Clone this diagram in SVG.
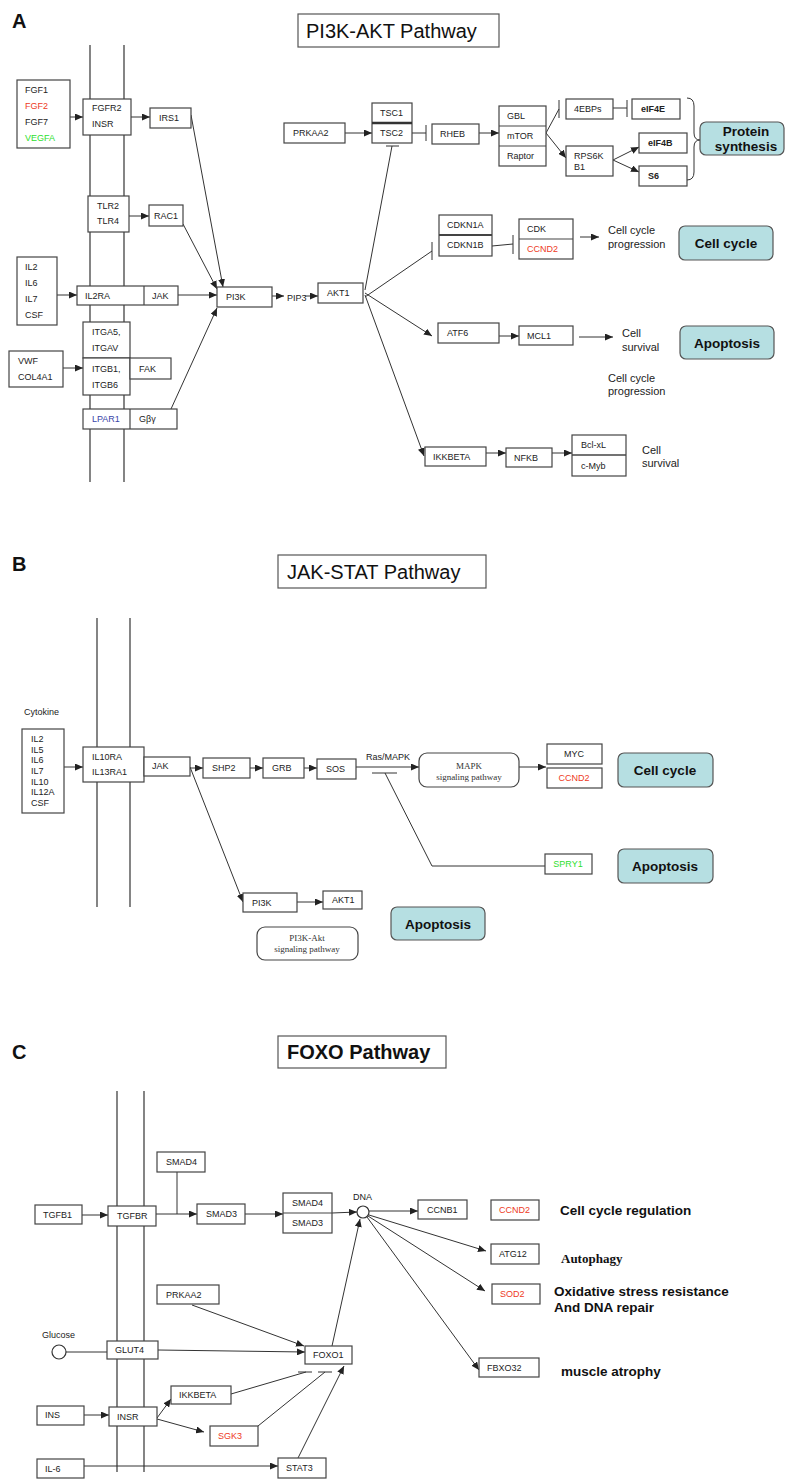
<svg xmlns="http://www.w3.org/2000/svg" width="785" height="1479" viewBox="0 0 785 1479">
<defs>
<marker id="arr" markerUnits="userSpaceOnUse" markerWidth="8" markerHeight="7" refX="8" refY="3.5" orient="auto"><path d="M0,0 L8,3.5 L0,7 z" fill="#222"/></marker>
<style>
.bg{fill:#fff}
.b{fill:#fff;stroke:#444;stroke-width:1.2}
.t{font-family:"Liberation Sans",Arial,sans-serif;font-size:9px;fill:#222;dominant-baseline:central}
.tc{text-anchor:middle}
.red{fill:#ee3a24}
.grn{fill:#2ee02e}
.blu{fill:#3a45a8}
.bold{font-weight:bold}
.lbl{font-family:"Liberation Sans",Arial,sans-serif;font-size:11px;fill:#222;dominant-baseline:central}
.big{font-family:"Liberation Sans",Arial,sans-serif;font-size:13.5px;font-weight:bold;fill:#111;dominant-baseline:central}
.ser{font-family:"Liberation Serif","Times New Roman",serif;font-size:9px;fill:#333;dominant-baseline:central;text-anchor:middle}
.cy{fill:#b6dfe2;stroke:#555;stroke-width:1.2}
.rr{fill:#fff;stroke:#444;stroke-width:1.2}
.ttl{font-family:"Liberation Sans",Arial,sans-serif;font-size:20px;fill:#111;dominant-baseline:central}
.pl{font-family:"Liberation Sans",Arial,sans-serif;font-size:20px;font-weight:bold;fill:#111;dominant-baseline:central}
.mem{stroke:#333;stroke-width:1.2;fill:none}
.c line,.c polyline,.c path{stroke:#333;stroke-width:1;fill:none}
.a{marker-end:url(#arr)}
</style>
</defs>
<rect x="0" y="0" width="785" height="1479" class="bg"/>

<!-- panel labels and titles -->
<text x="12" y="21" class="pl">A</text>
<g id="title-a"><rect x="298" y="14" width="201" height="33" fill="#fff" stroke="#555" stroke-width="1.2"/><text x="306" y="31" class="ttl">PI3K-AKT Pathway</text></g>
<text x="12" y="564" class="pl">B</text>
<g id="title-b"><rect x="278" y="555" width="208" height="33" fill="#fff" stroke="#555" stroke-width="1.2"/><text x="287" y="572" class="ttl">JAK-STAT Pathway</text></g>
<text x="12" y="1052" class="pl">C</text>
<g id="title-c"><rect x="278" y="1036" width="168" height="32" fill="#fff" stroke="#555" stroke-width="1.2"/><text x="287" y="1052" class="ttl" font-weight="bold">FOXO Pathway</text></g>

<!-- membranes -->
<g id="membranes">
<line x1="90" y1="45" x2="90" y2="482" class="mem"/>
<line x1="124" y1="45" x2="124" y2="482" class="mem"/>
<line x1="97" y1="618" x2="97" y2="907" class="mem"/>
<line x1="130" y1="618" x2="130" y2="907" class="mem"/>
<line x1="117" y1="1091" x2="117" y2="1472" class="mem"/>
<line x1="144" y1="1091" x2="144" y2="1472" class="mem"/>
</g>

<!-- connectors -->
<g id="connectors" class="c">
<!-- A -->
<line x1="70" y1="117" x2="83" y2="117" class="a"/>
<line x1="131" y1="117" x2="150" y2="117" class="a"/>
<line x1="129" y1="216" x2="149" y2="216" class="a"/>
<line x1="191" y1="115" x2="223" y2="287" class="a"/>
<line x1="183" y1="224" x2="217" y2="289" class="a"/>
<line x1="57" y1="295" x2="77" y2="295" class="a"/>
<line x1="178" y1="295" x2="217" y2="295" class="a"/>
<line x1="63" y1="368" x2="83" y2="368" class="a"/>
<line x1="171" y1="409" x2="217" y2="308" class="a"/>
<line x1="272" y1="296" x2="284" y2="296" class="a"/>
<line x1="305" y1="296" x2="318" y2="296" class="a"/>
<line x1="345" y1="133" x2="372" y2="133" class="a"/>
<line x1="412" y1="133" x2="426" y2="133"/><line x1="426" y1="125" x2="426" y2="141"/>
<line x1="479" y1="133" x2="499" y2="133" class="a"/>
<line x1="546" y1="133" x2="559" y2="109"/><line x1="559" y1="100" x2="559" y2="118"/>
<line x1="613" y1="108" x2="627" y2="108"/><line x1="627" y1="100" x2="627" y2="117"/>
<line x1="546" y1="133" x2="566" y2="158" class="a"/>
<line x1="613" y1="160" x2="639" y2="147" class="a"/>
<line x1="613" y1="160" x2="639" y2="172" class="a"/>
<path d="M687,98 Q694,98 694,106 L694,133 Q694,140 700,140 Q694,140 694,147 L694,172 Q694,180 687,180"/>
<line x1="365" y1="290" x2="392" y2="146"/><line x1="386" y1="146" x2="399" y2="146"/>
<line x1="365" y1="297" x2="432" y2="251"/><line x1="432" y1="242" x2="432" y2="260"/>
<line x1="492" y1="246" x2="513" y2="244"/><line x1="513" y1="235" x2="513" y2="254"/>
<line x1="580" y1="237" x2="599" y2="237" class="a"/>
<line x1="365" y1="293" x2="432" y2="336" class="a"/>
<line x1="499" y1="336" x2="519" y2="336" class="a"/>
<line x1="579" y1="337" x2="613" y2="337" class="a"/>
<line x1="365" y1="295" x2="424" y2="456" class="a"/>
<line x1="486" y1="453" x2="506" y2="453" class="a"/>
<line x1="552" y1="453" x2="572" y2="453" class="a"/>
<!-- B -->
<line x1="64" y1="767" x2="83" y2="767" class="a"/>
<line x1="190" y1="768" x2="203" y2="768" class="a"/>
<line x1="250" y1="768" x2="263" y2="768" class="a"/>
<line x1="304" y1="768" x2="317" y2="768" class="a"/>
<line x1="356" y1="767" x2="419" y2="767" class="a"/>
<line x1="372" y1="773" x2="397" y2="773"/>
<polyline points="385,773 432,866 545,866"/>
<line x1="519" y1="767" x2="546" y2="767" class="a"/>
<line x1="190" y1="767" x2="243" y2="902" class="a"/>
<line x1="297" y1="902" x2="323" y2="902" class="a"/>
<!-- C -->
<line x1="82" y1="1215" x2="108" y2="1215" class="a"/>
<line x1="156" y1="1214" x2="197" y2="1214" class="a"/>
<line x1="177" y1="1172" x2="177" y2="1214"/>
<line x1="245" y1="1214" x2="283" y2="1214" class="a"/>
<line x1="332" y1="1213" x2="357" y2="1212" class="a"/>
<line x1="369" y1="1211" x2="418" y2="1211" class="a"/>
<line x1="369" y1="1215" x2="486" y2="1251" class="a"/>
<line x1="368" y1="1216" x2="485" y2="1291" class="a"/>
<line x1="367" y1="1217" x2="479" y2="1370" class="a"/>
<line x1="192" y1="1305" x2="304" y2="1346" class="a"/>
<line x1="66" y1="1352" x2="107" y2="1352"/>
<line x1="158" y1="1350" x2="305" y2="1352" class="a"/>
<line x1="332" y1="1346" x2="360" y2="1219" class="a"/>
<line x1="298" y1="1372" x2="312" y2="1372"/><line x1="318" y1="1372" x2="332" y2="1372"/>
<line x1="231" y1="1394" x2="306" y2="1372"/>
<line x1="258" y1="1426" x2="325" y2="1372"/>
<line x1="298" y1="1458" x2="344" y2="1366" class="a"/>
<line x1="84" y1="1415" x2="109" y2="1415" class="a"/>
<line x1="157" y1="1418" x2="171" y2="1399" class="a"/>
<line x1="157" y1="1419" x2="204" y2="1432" class="a"/>
<line x1="84" y1="1466" x2="278" y2="1466" class="a"/>
</g>

<!-- ===== Panel A nodes ===== -->
<g id="fgf"><rect x="17" y="80" width="53" height="68" class="b"/><text x="25" y="90" class="t">FGF1</text><text x="25" y="106" class="t red">FGF2</text><text x="25" y="122" class="t">FGF7</text><text x="25" y="138" class="t grn">VEGFA</text></g>
<g id="fgfr2"><rect x="83" y="99" width="48" height="36" class="b"/><text x="92" y="108" class="t">FGFR2</text><text x="92" y="124" class="t">INSR</text></g>
<g id="irs1"><rect x="150" y="108" width="41" height="20" class="b"/><text x="159" y="118" class="t">IRS1</text></g>
<g id="tlr"><rect x="88" y="196" width="41" height="36" class="b"/><text x="97" y="206" class="t">TLR2</text><text x="97" y="221" class="t">TLR4</text></g>
<g id="rac1"><rect x="149" y="205" width="34" height="21" class="b"/><text x="154" y="216" class="t">RAC1</text></g>
<g id="il"><rect x="17" y="257" width="40" height="68" class="b"/><text x="25" y="267" class="t">IL2</text><text x="25" y="283" class="t">IL6</text><text x="25" y="299" class="t">IL7</text><text x="25" y="315" class="t">CSF</text></g>
<g id="il2ra-jak"><rect x="77" y="286" width="101" height="19" class="b"/><line x1="144" y1="286" x2="144" y2="305" stroke="#444" stroke-width="1.2"/><text x="85" y="296" class="t">IL2RA</text><text x="152" y="296" class="t">JAK</text></g>
<g id="pi3k-a"><rect x="217" y="287" width="55" height="20" class="b"/><text x="226" y="297" class="t">PI3K</text></g>
<g id="itga"><rect x="83" y="322" width="47" height="36" class="b"/><text x="92" y="332" class="t">ITGA5,</text><text x="92" y="348" class="t">ITGAV</text></g>
<g id="itgb"><rect x="83" y="358" width="47" height="37" class="b"/><text x="92" y="369" class="t">ITGB1,</text><text x="92" y="385" class="t">ITGB6</text></g>
<g id="fak"><rect x="130" y="358" width="41" height="21" class="b"/><text x="139" y="369" class="t">FAK</text></g>
<g id="vwf"><rect x="9" y="351" width="54" height="36" class="b"/><text x="18" y="361" class="t">VWF</text><text x="18" y="377" class="t">COL4A1</text></g>
<g id="lpar1"><rect x="83" y="409" width="94" height="20" class="b"/><line x1="130" y1="409" x2="130" y2="429" stroke="#444" stroke-width="1.2"/><text x="92" y="419" class="t blu">LPAR1</text><text x="139" y="419" class="t">Gβγ</text></g>
<g id="pip3"><text x="287" y="298" class="t">PIP3</text></g>
<g id="akt1-a"><rect x="318" y="283" width="45" height="20" class="b"/><text x="327" y="293" class="t">AKT1</text></g>
<g id="prkaa2-a"><rect x="284" y="123" width="61" height="20" class="b"/><text x="293" y="133" class="t">PRKAA2</text></g>
<g id="tsc"><rect x="372" y="103" width="40" height="40" class="b"/><line x1="372" y1="123" x2="412" y2="123" stroke="#333" stroke-width="2.5"/><text x="380" y="113" class="t">TSC1</text><text x="380" y="133" class="t">TSC2</text></g>
<g id="rheb"><rect x="432" y="124" width="47" height="20" class="b"/><text x="440" y="134" class="t">RHEB</text></g>
<g id="mtor"><rect x="499" y="106" width="47" height="60" class="b"/><line x1="499" y1="126" x2="546" y2="126" stroke="#444" stroke-width="1.2"/><line x1="499" y1="146" x2="546" y2="146" stroke="#444" stroke-width="1.2"/><text x="507" y="116" class="t">GBL</text><text x="507" y="136" class="t">mTOR</text><text x="507" y="156" class="t">Raptor</text></g>
<g id="4ebps"><rect x="566" y="99" width="47" height="20" class="b"/><text x="574" y="109" class="t">4EBPs</text></g>
<g id="eif4e"><rect x="632" y="99" width="48" height="20" class="b"/><text x="641" y="109" class="t bold">eIF4E</text></g>
<g id="rps6kb1"><rect x="566" y="146" width="47" height="30" class="b"/><text x="574" y="156" class="t">RPS6K</text><text x="574" y="167" class="t">B1</text></g>
<g id="eif4b"><rect x="639" y="133" width="48" height="20" class="b"/><text x="648" y="143" class="t bold">eIF4B</text></g>
<g id="s6"><rect x="639" y="166" width="48" height="20" class="b"/><text x="648" y="176" class="t bold">S6</text></g>
<g id="protein-synthesis"><rect x="700" y="122" width="84" height="33" rx="6" class="cy"/><text x="746" y="131" class="big tc">Protein</text><text x="746" y="146" class="big tc">synthesis</text></g>
<g id="cdkn1"><rect x="439" y="215" width="53" height="41" class="b"/><line x1="439" y1="235" x2="492" y2="235" stroke="#444" stroke-width="2"/><text x="447" y="225" class="t">CDKN1A</text><text x="447" y="245" class="t">CDKN1B</text></g>
<g id="cdk-ccnd2"><rect x="519" y="219" width="54" height="40" class="b"/><line x1="519" y1="239" x2="573" y2="239" stroke="#444" stroke-width="1.2"/><text x="527" y="229" class="t">CDK</text><text x="527" y="249" class="t red">CCND2</text></g>
<g id="lbl-ccp1"><text x="608" y="230" class="lbl">Cell cycle</text><text x="608" y="244" class="lbl">progression</text></g>
<g id="cell-cycle-a"><rect x="679" y="226" width="94" height="34" rx="6" class="cy"/><text x="726" y="243" class="big tc">Cell cycle</text></g>
<g id="atf6"><rect x="438" y="323" width="61" height="20" class="b"/><text x="447" y="333" class="t">ATF6</text></g>
<g id="mcl1"><rect x="519" y="326" width="54" height="19" class="b"/><text x="527" y="336" class="t">MCL1</text></g>
<g id="lbl-cs1"><text x="622" y="333" class="lbl">Cell</text><text x="622" y="347" class="lbl">survival</text></g>
<g id="apoptosis-a"><rect x="680" y="326" width="94" height="33" rx="6" class="cy"/><text x="727" y="343" class="big tc">Apoptosis</text></g>
<g id="lbl-ccp2"><text x="608" y="378" class="lbl">Cell cycle</text><text x="608" y="391" class="lbl">progression</text></g>
<g id="ikkbeta-a"><rect x="425" y="447" width="61" height="19" class="b"/><text x="433" y="457" class="t">IKKBETA</text></g>
<g id="nfkb"><rect x="506" y="448" width="46" height="19" class="b"/><text x="514" y="458" class="t">NFKB</text></g>
<g id="bcl"><rect x="572" y="435" width="54" height="41" class="b"/><line x1="572" y1="455" x2="626" y2="455" stroke="#444" stroke-width="1.5"/><text x="581" y="445" class="t">Bcl-xL</text><text x="581" y="466" class="t">c-Myb</text></g>
<g id="lbl-cs2"><text x="642" y="450" class="lbl">Cell</text><text x="642" y="463" class="lbl">survival</text></g>

<!-- ===== Panel B nodes ===== -->
<g id="cytokine"><text x="24" y="712" class="t">Cytokine</text><rect x="22" y="729" width="42" height="84" class="b"/><text x="31" y="739" class="t">IL2</text><text x="31" y="750" class="t">IL5</text><text x="31" y="760" class="t">IL6</text><text x="31" y="771" class="t">IL7</text><text x="31" y="782" class="t">IL10</text><text x="31" y="792" class="t">IL12A</text><text x="31" y="803" class="t">CSF</text></g>
<g id="il10ra"><rect x="83" y="747" width="61" height="35" class="b"/><text x="92" y="757" class="t">IL10RA</text><text x="92" y="772" class="t">IL13RA1</text></g>
<g id="jak-b"><rect x="144" y="757" width="46" height="19" class="b"/><text x="152" y="766" class="t">JAK</text></g>
<g id="shp2"><rect x="203" y="758" width="47" height="20" class="b"/><text x="212" y="768" class="t">SHP2</text></g>
<g id="grb"><rect x="263" y="758" width="41" height="20" class="b"/><text x="272" y="768" class="t">GRB</text></g>
<g id="sos"><rect x="317" y="759" width="39" height="20" class="b"/><text x="326" y="769" class="t">SOS</text></g>
<g id="rasmapk"><text x="366" y="757" class="t">Ras/MAPK</text></g>
<g id="mapk"><rect x="419" y="753" width="100" height="34" rx="8" class="rr"/><text x="469" y="766" class="ser">MAPK</text><text x="469" y="777" class="ser">signaling pathway</text></g>
<g id="myc"><rect x="547" y="744" width="55" height="20" class="b"/><text x="574" y="754" class="t tc">MYC</text></g>
<g id="ccnd2-b"><rect x="547" y="768" width="55" height="20" class="b"/><text x="574" y="778" class="t tc red">CCND2</text></g>
<g id="cell-cycle-b"><rect x="618" y="753" width="95" height="34" rx="6" class="cy"/><text x="665" y="770" class="big tc">Cell cycle</text></g>
<g id="spry1"><rect x="545" y="854" width="47" height="20" class="b"/><text x="568" y="864" class="t tc grn">SPRY1</text></g>
<g id="apoptosis-b1"><rect x="618" y="849" width="95" height="34" rx="6" class="cy"/><text x="665" y="866" class="big tc">Apoptosis</text></g>
<g id="pi3k-b"><rect x="243" y="893" width="54" height="19" class="b"/><text x="252" y="903" class="t">PI3K</text></g>
<g id="akt1-b"><rect x="323" y="891" width="39" height="18" class="b"/><text x="332" y="900" class="t">AKT1</text></g>
<g id="pi3k-akt"><rect x="257" y="927" width="101" height="33" rx="8" class="rr"/><text x="307" y="938" class="ser">PI3K-Akt</text><text x="307" y="949" class="ser">signaling pathway</text></g>
<g id="apoptosis-b2"><rect x="391" y="907" width="94" height="33" rx="6" class="cy"/><text x="438" y="924" class="big tc">Apoptosis</text></g>

<!-- ===== Panel C nodes ===== -->
<g id="smad4-top"><rect x="157" y="1152" width="48" height="20" class="b"/><text x="166" y="1162" class="t">SMAD4</text></g>
<g id="tgfb1"><rect x="35" y="1205" width="47" height="19" class="b"/><text x="43" y="1215" class="t">TGFB1</text></g>
<g id="tgfbr"><rect x="108" y="1206" width="48" height="20" class="b"/><text x="117" y="1216" class="t">TGFBR</text></g>
<g id="smad3"><rect x="197" y="1204" width="48" height="20" class="b"/><text x="206" y="1214" class="t">SMAD3</text></g>
<g id="smad-complex"><rect x="283" y="1193" width="49" height="40" fill="none" stroke="#444" stroke-width="1.2"/><line x1="283" y1="1213" x2="332" y2="1213" stroke="#444" stroke-width="1.2"/><text x="292" y="1203" class="t">SMAD4</text><text x="292" y="1223" class="t">SMAD3</text></g>
<g id="dna"><text x="353" y="1197" class="t">DNA</text><circle cx="363" cy="1212" r="6" fill="#fff" stroke="#333" stroke-width="1.2"/></g>
<g id="ccnb1"><rect x="418" y="1200" width="49" height="19" class="b"/><text x="427" y="1210" class="t">CCNB1</text></g>
<g id="ccnd2-c"><rect x="491" y="1200" width="48" height="20" class="b"/><text x="499" y="1210" class="t red">CCND2</text></g>
<g id="lbl-ccr"><text x="560" y="1210" class="big">Cell cycle regulation</text></g>
<g id="atg12"><rect x="491" y="1244" width="48" height="20" class="b"/><text x="499" y="1254" class="t">ATG12</text></g>
<g id="lbl-autophagy"><text x="561" y="1258" font-family="'Liberation Serif','Times New Roman',serif" font-size="13px" font-weight="bold" fill="#111" dominant-baseline="central">Autophagy</text></g>
<g id="sod2"><rect x="492" y="1284" width="48" height="20" class="b"/><text x="500" y="1294" class="t red">SOD2</text></g>
<g id="lbl-oxid"><text x="554" y="1291" class="big">Oxidative stress resistance</text><text x="554" y="1307" class="big">And DNA repair</text></g>
<g id="fbxo32"><rect x="479" y="1358" width="60" height="19" class="b"/><text x="487" y="1368" class="t">FBXO32</text></g>
<g id="lbl-muscle"><text x="561" y="1371" class="big">muscle atrophy</text></g>
<g id="prkaa2-c"><rect x="157" y="1285" width="62" height="19" class="b"/><text x="166" y="1295" class="t">PRKAA2</text></g>
<g id="glucose"><text x="42" y="1335" class="t">Glucose</text><circle cx="59" cy="1352" r="7" fill="#fff" stroke="#333" stroke-width="1.2"/></g>
<g id="glut4"><rect x="107" y="1341" width="51" height="18" class="b"/><text x="115" y="1350" class="t">GLUT4</text></g>
<g id="foxo1"><rect x="305" y="1346" width="47" height="18" class="b"/><text x="313" y="1355" class="t">FOXO1</text></g>
<g id="ikkbeta-c"><rect x="171" y="1386" width="60" height="18" class="b"/><text x="179" y="1395" class="t">IKKBETA</text></g>
<g id="ins"><rect x="37" y="1406" width="47" height="19" class="b"/><text x="45" y="1415" class="t">INS</text></g>
<g id="insr"><rect x="109" y="1407" width="48" height="19" class="b"/><text x="117" y="1417" class="t">INSR</text></g>
<g id="sgk3"><rect x="210" y="1426" width="48" height="20" class="b"/><text x="218" y="1436" class="t red">SGK3</text></g>
<g id="il6"><rect x="37" y="1459" width="47" height="19" class="b"/><text x="45" y="1469" class="t">IL-6</text></g>
<g id="stat3"><rect x="278" y="1458" width="48" height="20" class="b"/><text x="286" y="1468" class="t">STAT3</text></g>
</svg>
